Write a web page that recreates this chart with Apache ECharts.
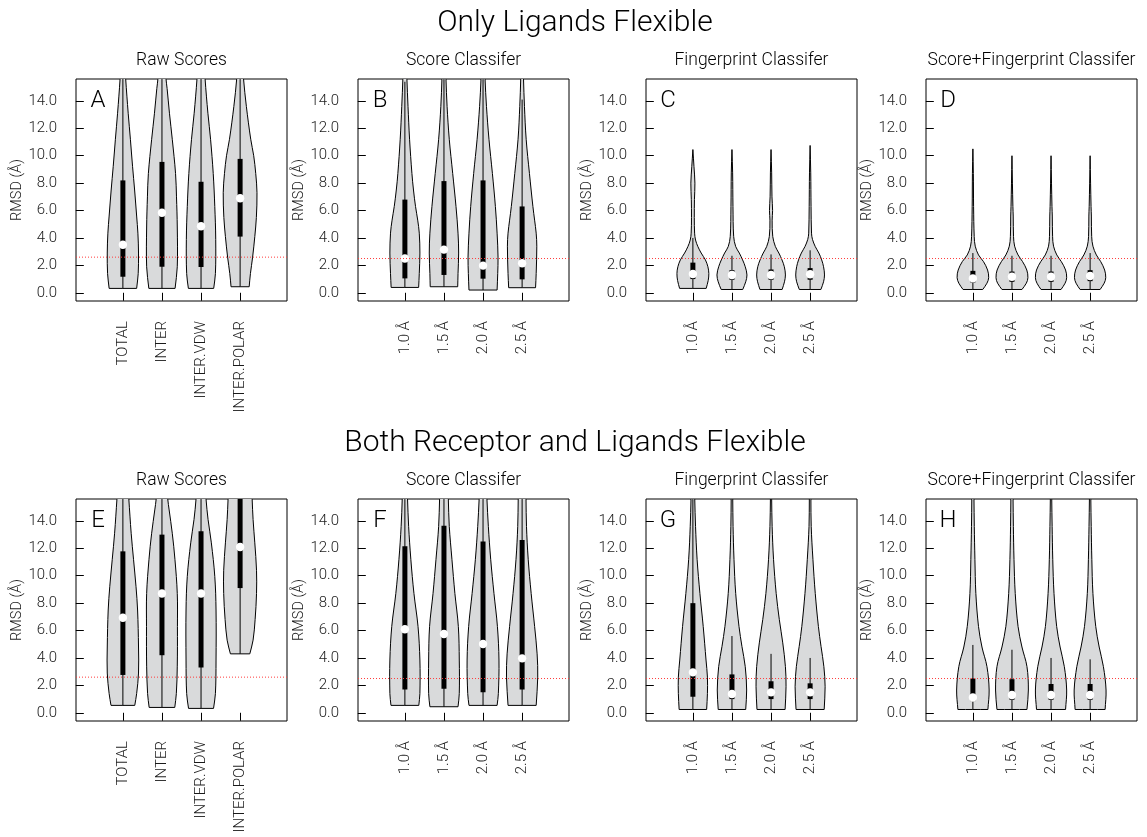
<!DOCTYPE html>
<html>
<head>
<meta charset="utf-8">
<script src="https://cdn.jsdelivr.net/npm/echarts@6/dist/echarts.min.js"></script>
<style>
  html, body { margin: 0; padding: 0; background: #fff; }
  #chart { width: 1147px; height: 837px; }
</style>
</head>
<body>
<div id="chart"></div>
<script>
// ---- text ----
const rowTitles = ['Only Ligands Flexible', 'Both Receptor and Ligands Flexible'];
const panelTitles = ['Raw Scores', 'Score Classifer', 'Fingerprint Classifer', 'Score+Fingerprint Classifer'];
const panelLetters = ['A', 'B', 'C', 'D', 'E', 'F', 'G', 'H'];
const rawCategories = ['TOTAL', 'INTER', 'INTER.VDW', 'INTER.POLAR'];
const cutoffCategories = ['1.0 Å', '1.5 Å', '2.0 Å', '2.5 Å'];
const yTicks = [0, 2, 4, 6, 8, 10, 12, 14];
const yAxisName = 'RMSD (Å)';

// success threshold drawn as a dotted line, per panel A..H
const successCutoff = [2.6, 2.5, 2.5, 2.5, 2.6, 2.5, 2.5, 2.5];

// ---- violin density profiles: [RMSD, relative density], bottom (minimum) upward ----
const densA = [
  [[0.32,0.88],[1.4,0.98],[2.9,1.0],[4.35,0.96],[5.6,0.88],[7.5,0.75],[9.2,0.62],[11.2,0.48],[13.1,0.34],[15.6,0.18],[17,0.12]],
  [[0.32,0.84],[1.9,0.98],[4.8,0.98],[7.0,0.93],[8.7,0.87],[11.2,0.66],[13.1,0.48],[14.9,0.33],[15.6,0.26],[17,0.2]],
  [[0.32,0.81],[1.4,0.92],[3.9,0.94],[6.3,0.88],[8.7,0.78],[11.2,0.61],[13.1,0.44],[15.6,0.26],[17,0.2]],
  [[0.44,0.58],[1.4,0.66],[2.6,0.8],[4.1,0.94],[5.5,1.04],[7.3,1.08],[8.7,1.0],[10.0,0.87],[11.2,0.68],[13.6,0.4],[15.6,0.22],[17,0.15]]
];
const densB = [
  [[0.39,0.88],[1.4,0.92],[2.9,0.96],[4.35,0.92],[5.3,0.82],[6.3,0.68],[7.5,0.55],[8.7,0.45],[11.2,0.3],[13.6,0.2],[15.6,0.13],[17,0.1]],
  [[0.44,0.88],[1.4,0.9],[2.9,0.94],[4.35,0.9],[6.3,0.77],[8.7,0.56],[11.2,0.34],[13.6,0.2],[15.6,0.13],[17,0.1]],
  [[0.2,0.9],[1.4,0.94],[2.6,0.96],[4.35,0.9],[6.3,0.79],[8.7,0.6],[11.2,0.38],[13.6,0.22],[15.6,0.13],[17,0.1]],
  [[0.37,0.86],[1.4,0.9],[3.4,0.94],[4.35,0.9],[5.3,0.8],[6.3,0.69],[8.7,0.47],[11.2,0.26],[13.6,0.15],[15.6,0.09],[17,0.07]]
];
const densC = [
  [[0.32,0.85],[0.9,0.98],[1.4,1.02],[1.9,0.96],[2.4,0.8],[2.9,0.53],[3.37,0.32],[3.85,0.17],[4.35,0.11],[5.5,0.09],[6.8,0.1],[8.0,0.13],[9.2,0.07],[10.45,0]],
  [[0.24,0.69],[0.8,0.88],[1.3,0.96],[1.9,0.85],[2.4,0.68],[2.9,0.47],[3.37,0.24],[4.1,0.11],[6.3,0.064],[8.75,0.043],[10.45,0]],
  [[0.24,0.71],[0.8,0.86],[1.3,0.92],[1.9,0.85],[2.4,0.7],[2.9,0.5],[3.37,0.28],[4.1,0.11],[5.3,0.07],[6.0,0.1],[7.0,0.06],[8.75,0.04],[10.45,0]],
  [[0.24,0.69],[0.8,0.86],[1.3,0.92],[1.9,0.86],[2.4,0.74],[2.9,0.56],[3.37,0.33],[3.9,0.15],[4.35,0.09],[6.3,0.06],[8.75,0.04],[10.75,0]]
];
const densD = [
  [[0.24,0.63],[0.7,0.9],[1.1,1.01],[1.66,0.94],[2.27,0.68],[2.76,0.36],[3.4,0.15],[4.1,0.085],[6.3,0.045],[8.7,0.03],[10.5,0]],
  [[0.24,0.64],[0.7,0.92],[1.1,1.02],[1.66,0.95],[2.27,0.68],[2.76,0.39],[3.4,0.17],[4.1,0.1],[5.6,0.08],[6.3,0.06],[8.0,0.03],[10.0,0]],
  [[0.24,0.64],[0.7,0.9],[1.1,1.0],[1.66,0.93],[2.27,0.66],[2.76,0.37],[3.4,0.16],[4.1,0.1],[5.6,0.08],[6.3,0.06],[8.0,0.03],[10.0,0]],
  [[0.24,0.64],[0.7,0.9],[1.1,1.0],[1.66,0.93],[2.27,0.68],[2.76,0.4],[3.4,0.18],[4.1,0.1],[5.6,0.08],[6.3,0.06],[8.0,0.03],[10.0,0]]
];
const densE = [
  [[0.54,0.76],[1.4,0.88],[2.9,1.0],[4.8,1.0],[7.5,0.94],[9.2,0.84],[11.2,0.68],[13.1,0.53],[15.6,0.38],[17,0.3]],
  [[0.39,0.82],[1.4,0.92],[3.4,0.98],[6.3,0.99],[8.7,0.98],[11.2,0.83],[13.1,0.66],[14.8,0.46],[15.6,0.37],[17,0.28]],
  [[0.32,0.8],[1.4,0.92],[3.85,0.96],[7.5,0.96],[9.95,0.88],[12.4,0.66],[14.1,0.45],[15.6,0.32],[17,0.25]],
  [[4.3,0.62],[5.3,0.83],[6.8,0.96],[8.7,1.05],[10.4,1.05],[12.4,0.94],[14.1,0.83],[15.6,0.77],[17,0.72]]
];
const densF = [
  [[0.54,0.89],[1.4,0.96],[3.85,0.96],[6.3,0.84],[8.7,0.58],[11.2,0.38],[13.6,0.24],[15.6,0.17],[17,0.14]],
  [[0.44,0.9],[1.4,0.98],[3.85,0.98],[6.3,0.92],[8.7,0.7],[11.2,0.51],[13.6,0.34],[15.6,0.28],[17,0.24]],
  [[0.54,0.9],[1.4,0.98],[3.85,1.02],[6.3,0.92],[8.7,0.7],[11.2,0.49],[13.6,0.34],[15.6,0.25],[17,0.21]],
  [[0.54,0.9],[2.6,1.0],[4.3,0.96],[6.3,0.8],[8.7,0.58],[11.2,0.39],[13.6,0.28],[15.6,0.25],[17,0.23]]
];
const densG = [
  [[0.24,0.88],[1.4,0.93],[2.6,0.93],[3.85,0.84],[6.3,0.66],[8.7,0.45],[11.2,0.27],[13.6,0.17],[15.6,0.12],[17,0.1]],
  [[0.24,0.88],[1.66,0.94],[3.37,0.85],[4.83,0.64],[6.3,0.45],[8.7,0.24],[11.2,0.13],[13.6,0.07],[15.6,0.05],[17,0.04]],
  [[0.24,0.9],[1.9,0.96],[3.37,0.92],[5.1,0.75],[6.8,0.53],[8.7,0.33],[11.2,0.16],[13.6,0.07],[15.6,0.04],[17,0.03]],
  [[0.24,0.9],[1.9,0.96],[3.37,0.88],[4.83,0.7],[6.3,0.53],[8.7,0.33],[11.2,0.18],[13.6,0.07],[15.6,0.05],[17,0.04]]
];
const densH = [
  [[0.24,0.96],[1.66,1.04],[3.37,0.9],[4.8,0.58],[6.3,0.36],[8.7,0.19],[11.2,0.13],[13.6,0.09],[15.6,0.07],[17,0.06]],
  [[0.24,0.96],[1.66,1.05],[3.37,0.96],[4.8,0.64],[6.3,0.39],[8.7,0.21],[11.2,0.13],[13.6,0.09],[15.6,0.07],[17,0.06]],
  [[0.24,0.93],[1.66,1.0],[3.37,0.85],[4.8,0.58],[6.3,0.36],[8.7,0.19],[11.2,0.11],[13.6,0.07],[15.6,0.045],[17,0.04]],
  [[0.24,0.96],[1.66,1.02],[3.37,0.85],[4.8,0.58],[6.3,0.36],[8.7,0.18],[11.2,0.11],[13.6,0.07],[15.6,0.045],[17,0.04]]
];

// ---- box summaries: [min, Q1, median, Q3, upper whisker] ----
const statsA = [[0.32,1.17,3.5,8.2,17],[0.32,1.9,5.84,9.55,17],[0.32,1.88,4.86,8.1,17],[0.44,4.1,6.9,9.77,17]];
const statsB = [[0.39,1.05,2.5,6.8,15.4],[0.44,1.3,3.15,8.15,17],[0.2,1.03,1.98,8.2,17],[0.37,0.98,2.15,6.3,14.1]];
const statsC = [[0.32,1.0,1.37,2.2,4.0],[0.24,0.95,1.3,1.65,2.7],[0.24,0.95,1.3,1.7,2.8],[0.24,0.95,1.35,1.8,3.1]];
const statsD = [[0.24,0.75,1.05,1.6,2.9],[0.24,0.8,1.17,1.55,2.7],[0.24,0.8,1.17,1.55,2.7],[0.24,0.85,1.22,1.65,2.9]];
const statsE = [[0.54,2.76,6.93,11.78,17],[0.39,4.2,8.7,13.0,17],[0.32,3.3,8.7,13.25,17],[4.3,9.1,12.1,17,17]];
const statsF = [[0.54,1.7,6.1,12.15,17],[0.44,1.75,5.75,13.65,17],[0.54,1.5,5.02,12.5,17],[0.54,1.7,3.97,12.6,17]];
const statsG = [[0.24,1.17,2.95,8.0,17],[0.24,1.0,1.37,2.8,5.6],[0.24,1.0,1.49,2.3,4.3],[0.24,1.0,1.49,2.15,4.0]];
const statsH = [[0.24,0.85,1.12,2.5,4.95],[0.24,0.95,1.3,2.45,4.6],[0.24,0.95,1.3,2.1,4.0],[0.24,0.95,1.3,2.1,3.9]];

// ---- layout / style ----
const FONT = 'Roboto, "Liberation Sans", sans-serif';
const TEXT = '#1a1a1a';
const gridLeft = [76, 358, 646, 926];
const gridTop = [79, 499];
const GRID_W = 211, GRID_H = 222;
const HALF = 0.4;           // half-width (category units) of density 1.0
const VIOLIN_FILL = '#d9dadb';

const panels = [
  { dens: densA, stats: statsA, cats: rawCategories },
  { dens: densB, stats: statsB, cats: cutoffCategories },
  { dens: densC, stats: statsC, cats: cutoffCategories },
  { dens: densD, stats: statsD, cats: cutoffCategories },
  { dens: densE, stats: statsE, cats: rawCategories },
  { dens: densF, stats: statsF, cats: cutoffCategories },
  { dens: densG, stats: statsG, cats: cutoffCategories },
  { dens: densH, stats: statsH, cats: cutoffCategories }
];

const grids = [], xAxes = [], yAxes = [], series = [], graphics = [];
const catTicks = [1, 2, 3, 4];

function textEl(text, x, y, size) {
  return {
    type: 'text', x: x, y: y, silent: true,
    style: {
      text: text, fill: '#000', fontSize: size, fontFamily: FONT, fontWeight: 300,
      align: 'center', verticalAlign: 'middle', textAlign: 'center', textVerticalAlign: 'middle'
    }
  };
}

rowTitles.forEach((t, r) => graphics.push(textEl(t, 575, 23 + r * 420, 30)));

panels.forEach((p, k) => {
  const r = Math.floor(k / 4), c = k % 4;
  const left = gridLeft[c], top = gridTop[r];

  graphics.push(textEl(panelTitles[c], left + GRID_W / 2, top - 18, 17.5));
  graphics.push(textEl(panelLetters[k], left + 22, top + 22, 24));

  grids.push({
    left: left, top: top, width: GRID_W, height: GRID_H,
    show: true, borderColor: '#000', borderWidth: 1, backgroundColor: 'transparent'
  });

  xAxes.push({
    gridIndex: k, type: 'value', min: -0.2, max: 5.2,
    axisLine: { show: false }, splitLine: { show: false },
    axisTick: { show: true, customValues: catTicks, length: 8, lineStyle: { color: '#000', width: 1 } },
    axisLabel: {
      customValues: catTicks, rotate: 90, margin: 20,
      formatter: v => p.cats[Math.round(v) - 1],
      fontSize: 15, fontFamily: FONT, fontWeight: 300, color: TEXT
    }
  });

  yAxes.push({
    gridIndex: k, type: 'value', min: -0.6, max: 15.6,
    axisLine: { show: false }, splitLine: { show: false },
    axisTick: { show: true, customValues: yTicks, length: 8, lineStyle: { color: '#000', width: 1 } },
    axisLabel: {
      customValues: yTicks, margin: 19,
      formatter: v => Number(v).toFixed(1),
      fontSize: 15, fontFamily: FONT, fontWeight: 300, color: TEXT
    },
    name: yAxisName, nameLocation: 'middle', nameGap: 51,
    nameTextStyle: { fontSize: 14.5, fontFamily: FONT, fontWeight: 300, color: TEXT }
  });

  series.push({
    type: 'custom', xAxisIndex: k, yAxisIndex: k, clip: true, silent: true,
    data: p.stats.map((s, i) => [i + 1].concat(s)),
    encode: { x: 0, y: [1, 2, 3, 4, 5] },
    renderItem: function (params, api) {
      const i = params.dataIndex;
      const x = api.value(0);
      const prof = p.dens[i];
      const lside = prof.map(q => api.coord([x - q[1] * HALF, q[0]]));
      const rside = prof.map(q => api.coord([x + q[1] * HALF, q[0]]));
      // bottom corners repeated so the flat base stays sharp under smoothing
      const pts = lside.slice().reverse().concat([lside[0]], [rside[0]], rside);
      const lo = api.coord([x, api.value(1)]);
      const q1 = api.coord([x, api.value(2)]);
      const med = api.coord([x, api.value(3)]);
      const q3 = api.coord([x, api.value(4)]);
      const hi = api.coord([x, api.value(5)]);
      return {
        type: 'group',
        children: [
          { type: 'polygon', shape: { points: pts, smooth: 0.35 },
            style: { fill: VIOLIN_FILL, stroke: '#000', lineWidth: 1 } },
          { type: 'line', shape: { x1: lo[0], y1: lo[1], x2: hi[0], y2: hi[1] },
            style: { stroke: '#000', lineWidth: 1 } },
          { type: 'rect', shape: { x: q3[0] - 2.5, y: q3[1], width: 5, height: q1[1] - q3[1] },
            style: { fill: '#000' } },
          { type: 'circle', shape: { cx: med[0], cy: med[1], r: 4.2 },
            style: { fill: '#fff' } }
        ]
      };
    }
  });

  series.push({
    type: 'line', xAxisIndex: k, yAxisIndex: k, silent: true, z: 5,
    data: [[-0.2, successCutoff[k]], [5.2, successCutoff[k]]],
    symbol: 'none', lineStyle: { color: '#ff3b3b', width: 1, type: [1, 2] }
  });
});

const chart = echarts.init(document.getElementById('chart'));
chart.setOption({
  animation: false,
  backgroundColor: '#fff',
  grid: grids, xAxis: xAxes, yAxis: yAxes, series: series, graphic: graphics
});
</script>
</body>
</html>
